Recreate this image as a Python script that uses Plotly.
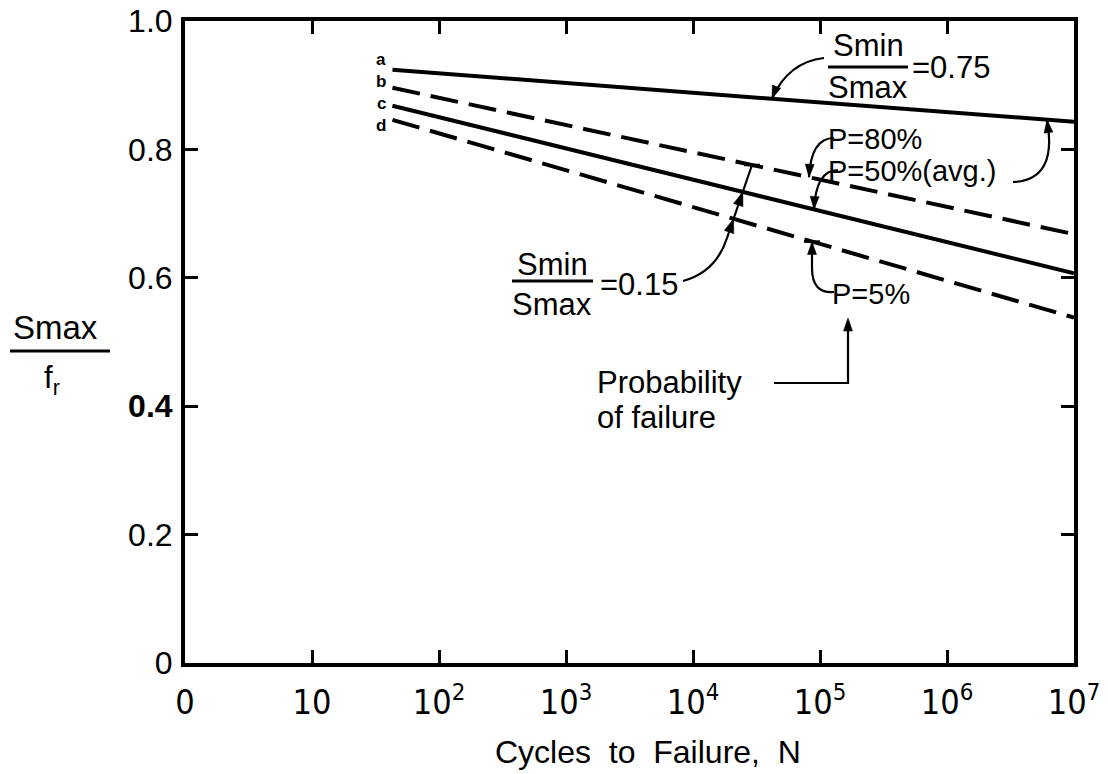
import numpy as np
import plotly.graph_objects as go

# ---------------- data ----------------
cycles = [43, 1e7]                 # N at start / end of each curve
curve_names = ["a", "b", "c", "d"]
s_a = [0.924, 0.843]               # Smin/Smax = 0.75, P = 50% (avg.)
s_b = [0.896, 0.668]               # Smin/Smax = 0.15, P = 80%
s_c = [0.868, 0.607]               # Smin/Smax = 0.15, P = 50% (avg.)
s_d = [0.846, 0.538]               # Smin/Smax = 0.15, P = 5%
x_tickvals = [0, 1, 2, 3, 4, 5, 6, 7]
x_ticktext = ["0", "10", "10<sup>2</sup>", "10<sup>3</sup>", "10<sup>4</sup>",
              "10<sup>5</sup>", "10<sup>6</sup>", "10<sup>7</sup>"]
y_tickvals = [0, 0.2, 0.4, 0.6, 0.8, 1.0]
y_ticktext = ["0", "0.2", "<b>0.4</b>", "0.6", "0.8", "1.0"]

# ---------------- geometry ----------------
W, H = 1108, 774
L, R, T, B = 185, 1074, 21, 663
XMAX = 7.0
logN = np.log10(cycles)

LETTER = "Liberation Sans, Arial, sans-serif"
NARROW = "Liberation Sans Narrow, DejaVu Sans Condensed, Liberation Sans, sans-serif"


def to_paper(X, Y):
    return (X - L) / (R - L), (B - Y) / (B - T)


def line_y(series, X):
    dec = (X - L) / (R - L) * XMAX
    v = np.interp(dec, logN, series)
    return B - v * (B - T)


def fmt(X, Y):
    px, py = to_paper(X, Y)
    return f"{px:.5f},{py:.5f}"


shapes = []
annots = []


def path_shape(d, width=2.2, fill=None):
    s = dict(type="path", xref="paper", yref="paper", path=d,
             line=dict(color="black", width=width), layer="above")
    if fill:
        s["fillcolor"] = fill
        s["line"]["width"] = 0.5
    shapes.append(s)


def quad(p0, c, p1):
    path_shape(f"M {fmt(*p0)} Q {fmt(*c)} {fmt(*p1)}")


def seg(p0, p1, width=2.2):
    path_shape(f"M {fmt(*p0)} L {fmt(*p1)}", width)


def head(tip, frm, ln=13, w=4.5):
    tx, ty = tip
    dx, dy = tx - frm[0], ty - frm[1]
    n = np.hypot(dx, dy)
    ux, uy = dx / n, dy / n
    bx, by = tx - ux * ln, ty - uy * ln
    px, py = -uy * w, ux * w
    path_shape(f"M {fmt(tx, ty)} L {fmt(bx + px, by + py)} L {fmt(bx - px, by - py)} Z",
               fill="black")


def tbar(tip, half=8):
    seg((tip[0] - half, tip[1]), (tip[0] + half, tip[1]), 2.5)


def text(t, X, Y, size=30, xa="center", font=LETTER):
    px, py = to_paper(X, Y)
    annots.append(dict(text=t, x=px, y=py, xref="paper", yref="paper",
                       xanchor=xa, yanchor="middle", showarrow=False,
                       font=dict(family=font, size=size, color="black")))


def hbar(X0, X1, Y, width=3):
    seg((X0, Y), (X1, Y), width)


def intersect(p0, p1, series):
    ts = np.linspace(0, 1, 2001)
    xs = p0[0] + ts * (p1[0] - p0[0])
    ys = p0[1] + ts * (p1[1] - p0[1])
    diff = ys - np.array([line_y(series, x) for x in xs])
    i = int(np.argmin(np.abs(diff)))
    return xs[i], ys[i]


# ---------------- figure ----------------
fig = go.Figure()
for name, s, dash in zip(curve_names, [s_a, s_b, s_c, s_d],
                         ["solid", "28px,11px", "solid", "28px,11px"]):
    fig.add_trace(go.Scatter(x=logN, y=s, mode="lines", name=name,
                             line=dict(color="black", width=4, dash=dash),
                             showlegend=False, hoverinfo="skip"))

# curve letters
for name, Y in zip(curve_names, [60, 82, 104, 126]):
    text(f"<b>{name}</b>", 381, Y, size=17)

# Smin/Smax = 0.75
text("Smin", 868, 46, 31)
hbar(828, 908, 67)
text("Smax", 868, 88, 31)
text("=0.75", 910, 67, 31, xa="left")
tipA = (772, line_y(s_a, 772))
quad((824, 58), (788, 62), tipA)
head(tipA, (776, 88))

# P = 80% and P = 50% (avg.)
text("P=80%", 826, 139, 29, xa="left")
text("P=50%(avg.)", 826, 171, 29, xa="left")
tipB = (809, line_y(s_b, 809))
quad((834, 138), (811, 138), tipB)
head(tipB, (810, 160))
tipC = (814, line_y(s_c, 814))
quad((838, 170), (816, 170), tipC)
head(tipC, (815, 190))
tipA2 = (1047, line_y(s_a, 1047))
quad((1013, 182), (1058, 180), tipA2)
head(tipA2, (1050, 145))

# Smin/Smax = 0.15 bracket
text("Smin", 552, 264, 31)
hbar(512, 593, 281)
text("Smax", 552, 304, 31)
text("=0.15", 598, 284, 31, xa="left")
top = (752, line_y(s_b, 752))
low = (727, 238)
quad((683, 281), (716, 272), low)
seg(low, top)
tbar(top)
for s in (s_d, s_c):
    head(intersect(low, top, s), low, ln=14, w=5)

# P = 5%
text("P=5%", 830, 294, 29, xa="left")
tipD = (812, line_y(s_d, 812))
quad((834, 292), (812, 294), (812, 268))
seg((812, 268), tipD)
head(tipD, (812, 270))
tbar(tipD)

# Probability of failure
text("Probability", 595, 382, 31, xa="left", font="Arial, Liberation Sans, sans-serif")
text("of failure", 595, 417, 31, xa="left", font="Arial, Liberation Sans, sans-serif")
path_shape(f"M {fmt(774, 383)} L {fmt(848, 383)} L {fmt(848, 328)}", 2.2)
head((848, 318), (848, 340))

# y-axis title (fraction)
text("Smax", 55, 327, 33)
hbar(10, 110, 351)
text("f<sub>r</sub>", 52, 380, 31)

# x-axis title
text("Cycles\u00a0\u00a0to\u00a0\u00a0Failure,\u00a0\u00a0N", 648, 752, 32)

fig.update_layout(
    width=W, height=H,
    margin=dict(l=L, r=W - R, t=T, b=H - B, autoexpand=False),
    plot_bgcolor="white", paper_bgcolor="white",
    shapes=shapes, annotations=annots,
    xaxis=dict(range=[0, XMAX], tickvals=x_tickvals, ticktext=x_ticktext,
               showline=True, linewidth=4, linecolor="black", mirror="ticks",
               ticks="inside", ticklen=13, tickwidth=3, tickcolor="black",
               showgrid=False, zeroline=False, ticklabelstandoff=6,
               tickfont=dict(family=NARROW, size=34, color="black")),
    yaxis=dict(range=[0, 1.0], tickvals=y_tickvals, ticktext=y_ticktext,
               showline=True, linewidth=4, linecolor="black", mirror="ticks",
               ticks="inside", ticklen=13, tickwidth=3, tickcolor="black",
               showgrid=False, zeroline=False, ticklabelstandoff=2,
               tickfont=dict(family=LETTER, size=32, color="black")),
)

fig.write_html("out.html")
